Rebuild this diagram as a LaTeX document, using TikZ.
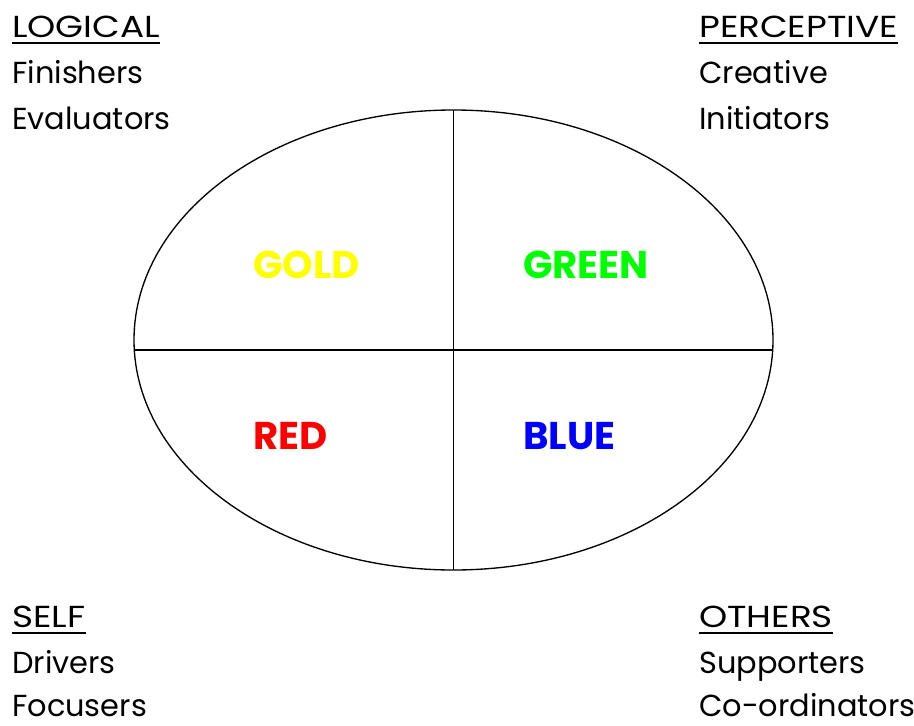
\documentclass[tikz,border=0pt]{standalone}
\usepackage{fontspec}
\setmainfont{Poppins}
\newfontfamily\headfont[FakeStretch=1.18]{Poppins}
\begin{document}
\begin{tikzpicture}[x=0.75pt,y=-0.75pt,
  lab/.style={anchor=base west,inner sep=0pt,font=\fontsize{22.8}{26}\selectfont},
  head/.style={lab,font=\fontsize{22.8}{26}\headfont},
  col/.style={anchor=base west,inner sep=0pt,font=\fontsize{29}{32}\selectfont\bfseries},
  ul/.style={line width=1.8pt}]
\useasboundingbox (0,0) rectangle (914,725);
% ellipse and quadrant lines
\draw[line width=1pt] (453.5,340) ellipse [x radius=319.5, y radius=230];
\coordinate (L) at (134.3,350);
\coordinate (R) at (772.7,350);
\coordinate (T) at (453.5,110);
\coordinate (B) at (453.5,570);
\draw[line width=1.2pt] (L) -- (R);
\draw[line width=1.2pt] (T) -- (B);
% colour labels
\node[col,text={rgb,255:red,255;green,255;blue,0}] (gold) at (253,278) {GOLD};
\node[col,text={rgb,255:red,0;green,255;blue,0}] (green) at (523,278) {GREEN};
\node[col,text=red] (red) at (253,449) {RED};
\node[col,text=blue] (blue) at (523,449) {BLUE};
% corner texts
\node[head] (logical) at (12,37) {LOGICAL};
\node[lab] (fin) at (12,83) {Finishers};
\node[lab] (eval) at (12,129) {Evaluators};
\node[head] (perc) at (699,37) {PERCEPTIVE};
\node[lab] (crea) at (699,83) {Creative};
\node[lab] (init) at (699,129) {Initiators};
\node[head] (self) at (12,627) {SELF};
\node[lab] (driv) at (12,673) {Drivers};
\node[lab] (focu) at (12,716) {Focusers};
\node[head] (oth) at (699,627) {OTHERS};
\node[lab] (supp) at (699,673) {Supporters};
\node[lab] (coor) at (699,716) {Co-ordinators};
% underlines
\foreach \n in {logical,perc,self,oth}
  \draw[ul] ([yshift=-4.5pt]\n.base west) -- ([yshift=-4.5pt]\n.base east);
\end{tikzpicture}
\end{document}
